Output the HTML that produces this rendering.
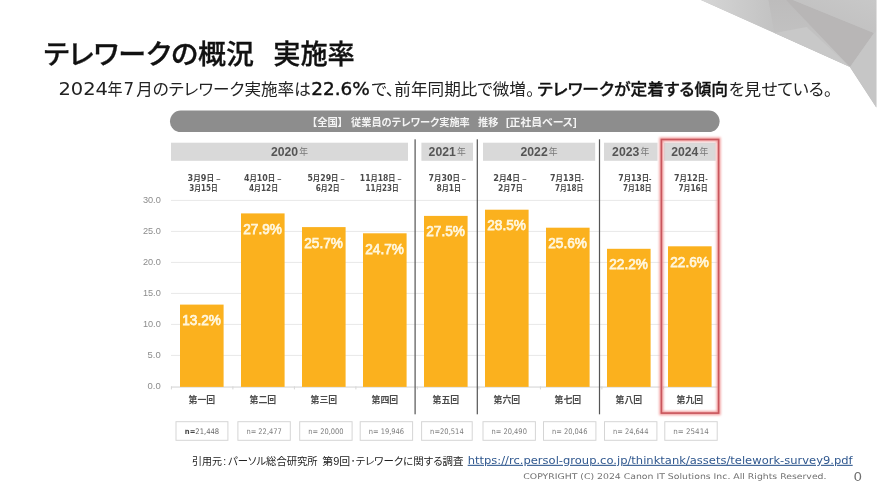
<!DOCTYPE html>
<html lang="ja">
<head>
<meta charset="utf-8">
<title>テレワークの概況 実施率</title>
<style>
html,body{margin:0;padding:0;background:#fff;}
body{width:880px;height:495px;overflow:hidden;font-family:"Liberation Sans", "Noto Sans CJK JP", sans-serif;}
svg{display:block;}
svg text{font-family:"Liberation Sans", "Noto Sans CJK JP", sans-serif;white-space:pre;}
svg text.dj{font-family:"DejaVu Sans", "Liberation Sans", "Noto Sans CJK JP", sans-serif;}
svg text.djb{font-family:"DejaVu Sans", "Liberation Sans", "Noto Sans CJK JP", sans-serif;stroke:#111;stroke-width:0.4px;}
svg text.pb{font-feature-settings:"palt" 1;stroke:#111;stroke-width:0.3px;}
svg text .dn{font-family:"DejaVu Sans","Liberation Sans",sans-serif;font-weight:700;}
svg text.pc{stroke:#fff6dc;stroke-width:0.75px;}
svg text.p{font-feature-settings:"palt" 1;}
svg text.t{font-feature-settings:"palt" 1;stroke:#111;stroke-width:0.3px;}
</style>
</head>
<body>
<svg width="880" height="495" viewBox="0 0 880 495">
<defs>
<linearGradient id="g1" x1="0" y1="0" x2="1" y2="0"><stop offset="0" stop-color="#d6d6d6"/><stop offset="1" stop-color="#c2c2c2"/></linearGradient>
<linearGradient id="g2" x1="0" y1="0" x2="0" y2="1"><stop offset="0" stop-color="#bdbcbc"/><stop offset="1" stop-color="#c6c6c6"/></linearGradient>
<linearGradient id="g3" x1="0" y1="1" x2="1" y2="0"><stop offset="0" stop-color="#bebdbd"/><stop offset="1" stop-color="#c8c8c8"/></linearGradient>
<filter id="glow" x="-20%" y="-10%" width="140%" height="120%"><feGaussianBlur stdDeviation="0.8"/></filter>
</defs>
<rect width="880" height="495" fill="#ffffff"/>

<g>
<polygon points="701,0 876.3,0 876.3,107.5 849.5,66.5" fill="#c1c0c0"/>
<polygon points="701,0 768.5,0 774.5,33" fill="url(#g1)"/>
<polygon points="768.5,0 786,0 850,67 774.5,33" fill="url(#g2)"/>
<polygon points="774.5,33 806.7,27 850,67" fill="#c8c8c8"/>
<polygon points="786,0 793,0 874,33 850,67" fill="#b8b6b6"/>
<polygon points="793,0 876.3,0 876.3,31 874,33" fill="url(#g3)"/>
<polygon points="874,33 876.3,31 876.3,107.5 850,67" fill="#c6c6c6"/>
</g>
<text x="43.6" y="64.2" font-size="27.5" fill="#111" font-weight="500" textLength="210.4" lengthAdjust="spacingAndGlyphs" class="t">テレワークの概況</text>
<text x="273.2" y="64.2" font-size="27.5" fill="#111" font-weight="500" textLength="81.6" lengthAdjust="spacingAndGlyphs" class="t">実施率</text>
<text x="58.4" y="94.6" font-size="17.6" fill="#222" textLength="49.6" lengthAdjust="spacingAndGlyphs" class="dj">2024</text>
<text x="107.6" y="94.6" font-size="16.4" fill="#222" textLength="15" lengthAdjust="spacingAndGlyphs" class="p">年</text>
<text x="123.6" y="94.6" font-size="17.6" fill="#222" textLength="10.6" lengthAdjust="spacingAndGlyphs" class="dj">7</text>
<text x="136.2" y="94.6" font-size="16.4" fill="#222" textLength="174.6" lengthAdjust="spacingAndGlyphs" class="p">月のテレワーク実施率は</text>
<text x="311.3" y="94.6" font-size="17.6" fill="#111" textLength="58.6" lengthAdjust="spacingAndGlyphs" class="djb">22.6%</text>
<text x="371.3" y="94.6" font-size="16.4" fill="#222" textLength="163" lengthAdjust="spacingAndGlyphs" class="p">で、前年同期比で微増。</text>
<text x="537.5" y="94.6" font-size="16.4" fill="#111" font-weight="500" textLength="190.5" lengthAdjust="spacingAndGlyphs" class="pb">テレワークが定着する傾向</text>
<text x="728.8" y="94.6" font-size="16.4" fill="#222" textLength="103.5" lengthAdjust="spacingAndGlyphs" class="p">を見せている。</text>
<rect x="170" y="110.6" width="549.6" height="21.5" rx="10.75" ry="10.75" fill="#8d8d8d"/>
<text x="312" y="125.6" font-size="10.6" fill="#f4f4f4" font-weight="700" textLength="31" lengthAdjust="spacingAndGlyphs" class="p">【全国】</text>
<text x="351" y="125.6" font-size="10.6" fill="#f4f4f4" font-weight="700" textLength="118.8" lengthAdjust="spacingAndGlyphs" class="p">従業員のテレワーク実施率</text>
<text x="478" y="125.6" font-size="10.6" fill="#f4f4f4" font-weight="700" textLength="20.4" lengthAdjust="spacingAndGlyphs">推移</text>
<text x="506" y="125.6" font-size="10.6" fill="#f4f4f4" font-weight="700" textLength="70.6" lengthAdjust="spacingAndGlyphs" class="p">[正社員ベース]</text>
<rect x="171" y="142.7" width="237.0" height="18.1" fill="#d9d9d9"/>
<text x="270.9" y="155.8" font-size="13" fill="#555555" font-weight="700" textLength="27.2" lengthAdjust="spacingAndGlyphs">2020</text>
<text x="299.2" y="155.3" font-size="8.8" fill="#777777">年</text>
<rect x="421.4" y="142.7" width="51.6" height="18.1" fill="#d9d9d9"/>
<text x="428.6" y="155.8" font-size="13" fill="#555555" font-weight="700" textLength="27.2" lengthAdjust="spacingAndGlyphs">2021</text>
<text x="456.9" y="155.3" font-size="8.8" fill="#777777">年</text>
<rect x="483" y="142.7" width="112.2" height="18.1" fill="#d9d9d9"/>
<text x="520.5" y="155.8" font-size="13" fill="#555555" font-weight="700" textLength="27.2" lengthAdjust="spacingAndGlyphs">2022</text>
<text x="548.8" y="155.3" font-size="8.8" fill="#777777">年</text>
<rect x="604" y="142.7" width="53.5" height="18.1" fill="#d9d9d9"/>
<text x="612.1" y="155.8" font-size="13" fill="#555555" font-weight="700" textLength="27.2" lengthAdjust="spacingAndGlyphs">2023</text>
<text x="640.5" y="155.3" font-size="8.8" fill="#777777">年</text>
<rect x="664" y="142.7" width="51.7" height="18.1" fill="#d9d9d9"/>
<text x="671.2" y="155.8" font-size="13" fill="#555555" font-weight="700" textLength="27.2" lengthAdjust="spacingAndGlyphs">2024</text>
<text x="699.6" y="155.3" font-size="8.8" fill="#777777">年</text>
<text x="147.6" y="389.3" font-size="9.3" fill="#8c8c8c" textLength="13.2" lengthAdjust="spacingAndGlyphs">0.0</text>
<rect x="171" y="354.9" width="547" height="1" fill="#e8e8e8"/>
<text x="147.6" y="358.3" font-size="9.3" fill="#8c8c8c" textLength="13.2" lengthAdjust="spacingAndGlyphs">5.0</text>
<rect x="171" y="323.9" width="547" height="1" fill="#e8e8e8"/>
<text x="142.9" y="327.3" font-size="9.3" fill="#8c8c8c" textLength="17.9" lengthAdjust="spacingAndGlyphs">10.0</text>
<rect x="171" y="292.9" width="547" height="1" fill="#e8e8e8"/>
<text x="142.9" y="296.3" font-size="9.3" fill="#8c8c8c" textLength="17.9" lengthAdjust="spacingAndGlyphs">15.0</text>
<rect x="171" y="261.9" width="547" height="1" fill="#e8e8e8"/>
<text x="142.9" y="265.3" font-size="9.3" fill="#8c8c8c" textLength="17.9" lengthAdjust="spacingAndGlyphs">20.0</text>
<rect x="171" y="230.9" width="547" height="1" fill="#e8e8e8"/>
<text x="142.9" y="234.3" font-size="9.3" fill="#8c8c8c" textLength="17.9" lengthAdjust="spacingAndGlyphs">25.0</text>
<rect x="171" y="199.9" width="547" height="1" fill="#e8e8e8"/>
<text x="142.9" y="203.3" font-size="9.3" fill="#8c8c8c" textLength="17.9" lengthAdjust="spacingAndGlyphs">30.0</text>
<rect x="171" y="386.5" width="547" height="1.1" fill="#d6d6d6"/>
<rect x="170.9" y="386.4" width="1" height="3" fill="#d6d6d6"/>
<rect x="232.4" y="386.4" width="1" height="3" fill="#d6d6d6"/>
<rect x="293.9" y="386.4" width="1" height="3" fill="#d6d6d6"/>
<rect x="355.4" y="386.4" width="1" height="3" fill="#d6d6d6"/>
<rect x="416.9" y="386.4" width="1" height="3" fill="#d6d6d6"/>
<rect x="478.4" y="386.4" width="1" height="3" fill="#d6d6d6"/>
<rect x="539.9" y="386.4" width="1" height="3" fill="#d6d6d6"/>
<rect x="601.4" y="386.4" width="1" height="3" fill="#d6d6d6"/>
<rect x="662.9" y="386.4" width="1" height="3" fill="#d6d6d6"/>
<rect x="180" y="304.6" width="43.6" height="82.3" fill="#fbb11e"/>
<text x="182.3" y="325.1" font-size="14" fill="#fff6dc" textLength="38.6" lengthAdjust="spacingAndGlyphs" class="pc">13.2%</text>
<rect x="241" y="213.4" width="43.6" height="173.5" fill="#fbb11e"/>
<text x="243.3" y="233.9" font-size="14" fill="#fff6dc" textLength="38.6" lengthAdjust="spacingAndGlyphs" class="pc">27.9%</text>
<rect x="302" y="227.1" width="43.6" height="159.8" fill="#fbb11e"/>
<text x="304.3" y="247.6" font-size="14" fill="#fff6dc" textLength="38.6" lengthAdjust="spacingAndGlyphs" class="pc">25.7%</text>
<rect x="363" y="233.3" width="43.6" height="153.6" fill="#fbb11e"/>
<text x="365.3" y="253.8" font-size="14" fill="#fff6dc" textLength="38.6" lengthAdjust="spacingAndGlyphs" class="pc">24.7%</text>
<rect x="424" y="215.9" width="43.6" height="171.0" fill="#fbb11e"/>
<text x="426.3" y="236.4" font-size="14" fill="#fff6dc" textLength="38.6" lengthAdjust="spacingAndGlyphs" class="pc">27.5%</text>
<rect x="485" y="209.7" width="43.6" height="177.2" fill="#fbb11e"/>
<text x="487.3" y="230.2" font-size="14" fill="#fff6dc" textLength="38.6" lengthAdjust="spacingAndGlyphs" class="pc">28.5%</text>
<rect x="546" y="227.7" width="43.6" height="159.2" fill="#fbb11e"/>
<text x="548.3" y="248.2" font-size="14" fill="#fff6dc" textLength="38.6" lengthAdjust="spacingAndGlyphs" class="pc">25.6%</text>
<rect x="607" y="248.8" width="43.6" height="138.1" fill="#fbb11e"/>
<text x="609.3" y="269.3" font-size="14" fill="#fff6dc" textLength="38.6" lengthAdjust="spacingAndGlyphs" class="pc">22.2%</text>
<rect x="668" y="246.3" width="43.6" height="140.6" fill="#fbb11e"/>
<text x="670.3" y="266.8" font-size="14" fill="#fff6dc" textLength="38.6" lengthAdjust="spacingAndGlyphs" class="pc">22.6%</text>
<rect x="414.5" y="139.3" width="1.2" height="275" fill="#555555"/>
<rect x="476.7" y="139.3" width="1.2" height="275" fill="#555555"/>
<rect x="598.9" y="139.3" width="1.2" height="275" fill="#555555"/>
<text x="187.6" y="181.2" font-size="7.5" fill="#4a4a4a" font-weight="700" textLength="32.9" lengthAdjust="spacingAndGlyphs"><tspan class="dn" font-size="8">3</tspan>月<tspan class="dn" font-size="8">9</tspan>日 –</text>
<text x="189.3" y="190.6" font-size="7.5" fill="#4a4a4a" font-weight="700" textLength="28.4" lengthAdjust="spacingAndGlyphs"><tspan class="dn" font-size="8">3</tspan>月<tspan class="dn" font-size="8">15</tspan>日</text>
<text x="243.9" y="181.2" font-size="7.5" fill="#4a4a4a" font-weight="700" textLength="37.5" lengthAdjust="spacingAndGlyphs"><tspan class="dn" font-size="8">4</tspan>月<tspan class="dn" font-size="8">10</tspan>日 –</text>
<text x="249" y="190.6" font-size="7.5" fill="#4a4a4a" font-weight="700" textLength="29" lengthAdjust="spacingAndGlyphs"><tspan class="dn" font-size="8">4</tspan>月<tspan class="dn" font-size="8">12</tspan>日</text>
<text x="307.4" y="181.2" font-size="7.5" fill="#4a4a4a" font-weight="700" textLength="37.2" lengthAdjust="spacingAndGlyphs"><tspan class="dn" font-size="8">5</tspan>月<tspan class="dn" font-size="8">29</tspan>日 –</text>
<text x="315.7" y="190.6" font-size="7.5" fill="#4a4a4a" font-weight="700" textLength="23.9" lengthAdjust="spacingAndGlyphs"><tspan class="dn" font-size="8">6</tspan>月<tspan class="dn" font-size="8">2</tspan>日</text>
<text x="359.8" y="181.2" font-size="7.5" fill="#4a4a4a" font-weight="700" textLength="41.7" lengthAdjust="spacingAndGlyphs"><tspan class="dn" font-size="8">11</tspan>月<tspan class="dn" font-size="8">18</tspan>日 –</text>
<text x="365.5" y="190.6" font-size="7.5" fill="#4a4a4a" font-weight="700" textLength="33.2" lengthAdjust="spacingAndGlyphs"><tspan class="dn" font-size="8">11</tspan>月<tspan class="dn" font-size="8">23</tspan>日</text>
<text x="428.5" y="181.2" font-size="7.5" fill="#4a4a4a" font-weight="700" textLength="37.5" lengthAdjust="spacingAndGlyphs"><tspan class="dn" font-size="8">7</tspan>月<tspan class="dn" font-size="8">30</tspan>日 –</text>
<text x="436.4" y="190.6" font-size="7.5" fill="#4a4a4a" font-weight="700" textLength="24.7" lengthAdjust="spacingAndGlyphs"><tspan class="dn" font-size="8">8</tspan>月<tspan class="dn" font-size="8">1</tspan>日</text>
<text x="493.2" y="181.2" font-size="7.5" fill="#4a4a4a" font-weight="700" textLength="33.3" lengthAdjust="spacingAndGlyphs"><tspan class="dn" font-size="8">2</tspan>月<tspan class="dn" font-size="8">4</tspan>日 –</text>
<text x="498" y="190.6" font-size="7.5" fill="#4a4a4a" font-weight="700" textLength="24.8" lengthAdjust="spacingAndGlyphs"><tspan class="dn" font-size="8">2</tspan>月<tspan class="dn" font-size="8">7</tspan>日</text>
<text x="550" y="181.2" font-size="7.5" fill="#4a4a4a" font-weight="700" textLength="33.9" lengthAdjust="spacingAndGlyphs"><tspan class="dn" font-size="8">7</tspan>月<tspan class="dn" font-size="8">13</tspan>日-</text>
<text x="554.9" y="190.6" font-size="7.5" fill="#4a4a4a" font-weight="700" textLength="28.4" lengthAdjust="spacingAndGlyphs"><tspan class="dn" font-size="8">7</tspan>月<tspan class="dn" font-size="8">18</tspan>日</text>
<text x="618.2" y="181.2" font-size="7.5" fill="#4a4a4a" font-weight="700" textLength="33.3" lengthAdjust="spacingAndGlyphs"><tspan class="dn" font-size="8">7</tspan>月<tspan class="dn" font-size="8">13</tspan>日-</text>
<text x="623" y="190.6" font-size="7.5" fill="#4a4a4a" font-weight="700" textLength="28.5" lengthAdjust="spacingAndGlyphs"><tspan class="dn" font-size="8">7</tspan>月<tspan class="dn" font-size="8">18</tspan>日</text>
<text x="673.9" y="181.2" font-size="7.5" fill="#4a4a4a" font-weight="700" textLength="33.8" lengthAdjust="spacingAndGlyphs"><tspan class="dn" font-size="8">7</tspan>月<tspan class="dn" font-size="8">12</tspan>日-</text>
<text x="678.4" y="190.6" font-size="7.5" fill="#4a4a4a" font-weight="700" textLength="29.3" lengthAdjust="spacingAndGlyphs"><tspan class="dn" font-size="8">7</tspan>月<tspan class="dn" font-size="8">16</tspan>日</text>
<text x="201.9" y="402.5" font-size="8.9" fill="#4a4a4a" font-weight="700" text-anchor="middle">第一回</text>
<text x="262.9" y="402.5" font-size="8.9" fill="#4a4a4a" font-weight="700" text-anchor="middle">第二回</text>
<text x="323.9" y="402.5" font-size="8.9" fill="#4a4a4a" font-weight="700" text-anchor="middle">第三回</text>
<text x="384.9" y="402.5" font-size="8.9" fill="#4a4a4a" font-weight="700" text-anchor="middle">第四回</text>
<text x="445.9" y="402.5" font-size="8.9" fill="#4a4a4a" font-weight="700" text-anchor="middle">第五回</text>
<text x="506.9" y="402.5" font-size="8.9" fill="#4a4a4a" font-weight="700" text-anchor="middle">第六回</text>
<text x="567.9" y="402.5" font-size="8.9" fill="#4a4a4a" font-weight="700" text-anchor="middle">第七回</text>
<text x="628.9" y="402.5" font-size="8.9" fill="#4a4a4a" font-weight="700" text-anchor="middle">第八回</text>
<text x="689.9" y="402.5" font-size="8.9" fill="#4a4a4a" font-weight="700" text-anchor="middle">第九回</text>
<rect x="176.0" y="421.7" width="51.9" height="18.6" fill="#fff" stroke="#d5d5d5" stroke-width="1"/>
<text x="184.8" y="434.2" font-size="7.6" fill="#666" class="dj" textLength="34.4" lengthAdjust="spacingAndGlyphs"><tspan font-weight="700" fill="#444">n=</tspan>21,448</text>
<rect x="237.9" y="421.7" width="52.4" height="18.6" fill="#fff" stroke="#d5d5d5" stroke-width="1"/>
<text x="246.4" y="434.2" font-size="7.6" fill="#7c7c7c" textLength="35.4" lengthAdjust="spacingAndGlyphs" class="dj">n= 22,477</text>
<rect x="299.7" y="421.7" width="52.4" height="18.6" fill="#fff" stroke="#d5d5d5" stroke-width="1"/>
<text x="308.2" y="434.2" font-size="7.6" fill="#7c7c7c" textLength="35.4" lengthAdjust="spacingAndGlyphs" class="dj">n= 20,000</text>
<rect x="360.2" y="421.7" width="52.4" height="18.6" fill="#fff" stroke="#d5d5d5" stroke-width="1"/>
<text x="368.7" y="434.2" font-size="7.6" fill="#7c7c7c" textLength="35.4" lengthAdjust="spacingAndGlyphs" class="dj">n= 19,946</text>
<rect x="421.6" y="421.7" width="50.6" height="18.6" fill="#fff" stroke="#d5d5d5" stroke-width="1"/>
<text x="430.1" y="434.2" font-size="7.6" fill="#7c7c7c" textLength="33.6" lengthAdjust="spacingAndGlyphs" class="dj">n=20,514</text>
<rect x="483.0" y="421.7" width="52.4" height="18.6" fill="#fff" stroke="#d5d5d5" stroke-width="1"/>
<text x="491.5" y="434.2" font-size="7.6" fill="#7c7c7c" textLength="35.4" lengthAdjust="spacingAndGlyphs" class="dj">n= 20,490</text>
<rect x="543.5" y="421.7" width="52.4" height="18.6" fill="#fff" stroke="#d5d5d5" stroke-width="1"/>
<text x="552.0" y="434.2" font-size="7.6" fill="#7c7c7c" textLength="35.4" lengthAdjust="spacingAndGlyphs" class="dj">n= 20,046</text>
<rect x="604.5" y="421.7" width="52.4" height="18.6" fill="#fff" stroke="#d5d5d5" stroke-width="1"/>
<text x="613.0" y="434.2" font-size="7.6" fill="#7c7c7c" textLength="35.4" lengthAdjust="spacingAndGlyphs" class="dj">n= 24,644</text>
<rect x="664.8" y="421.7" width="52.4" height="18.6" fill="#fff" stroke="#d5d5d5" stroke-width="1"/>
<text x="673.3" y="434.2" font-size="7.6" fill="#7c7c7c" textLength="35.4" lengthAdjust="spacingAndGlyphs" class="dj">n= 25414</text>
<rect x="661.4" y="139.5" width="57.2" height="273.6" fill="none" stroke="#f2a0a0" stroke-width="4.2" filter="url(#glow)"/>
<rect x="661.4" y="139.5" width="57.2" height="273.6" fill="none" stroke="#c8565d" stroke-width="1.6"/>
<text x="191.9" y="464.7" font-size="10.4" fill="#222" textLength="30" lengthAdjust="spacingAndGlyphs" class="p">引用元</text>
<text x="223.3" y="464.7" font-size="10.4" fill="#222">:</text>
<text x="228.2" y="464.7" font-size="10.4" fill="#222" textLength="89.3" lengthAdjust="spacingAndGlyphs" class="p">パーソル総合研究所</text>
<text x="322.3" y="464.7" font-size="10.4" fill="#222" textLength="27.9" lengthAdjust="spacingAndGlyphs" class="p">第9回</text>
<text x="350.6" y="464.7" font-size="10.4" fill="#222">･</text>
<text x="355.6" y="464.7" font-size="10.4" fill="#222" textLength="107.8" lengthAdjust="spacingAndGlyphs" class="p">テレワークに関する調査</text>
<text x="467.7" y="463.8" font-size="10.9" fill="#30588f" textLength="385" lengthAdjust="spacingAndGlyphs" class="dj" text-decoration="underline">https://rc.persol-group.co.jp/thinktank/assets/telework-survey9.pdf</text>
<text x="523.3" y="479" font-size="7.9" fill="#707070" textLength="303.2" lengthAdjust="spacingAndGlyphs" class="dj">COPYRIGHT (C) 2024 Canon IT Solutions Inc. All Rights Reserved.</text>
<text x="853.5" y="480.6" font-size="11.8" fill="#707070" textLength="8.6" lengthAdjust="spacingAndGlyphs" class="dj">0</text>
</svg>
</body>
</html>
